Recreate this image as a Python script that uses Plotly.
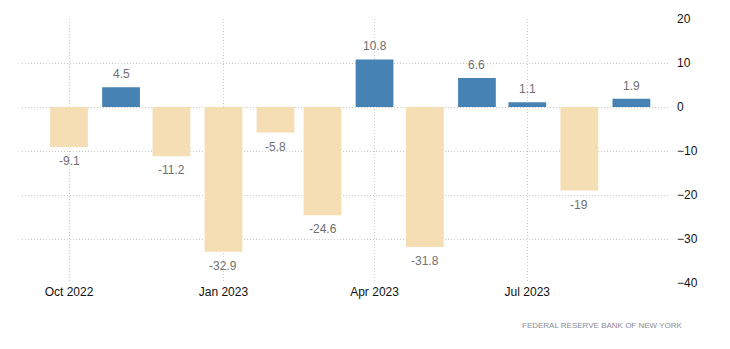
import plotly.graph_objects as go

months = ["2022-10-01", "2022-11-01", "2022-12-01", "2023-01-01", "2023-02-01", "2023-03-01",
          "2023-04-01", "2023-05-01", "2023-06-01", "2023-07-01", "2023-08-01", "2023-09-01"]
values = [-9.1, 4.5, -11.2, -32.9, -5.8, -24.6, 10.8, -31.8, 6.6, 1.1, -19, 1.9]
labels = ["-9.1", "4.5", "-11.2", "-32.9", "-5.8", "-24.6", "10.8", "-31.8", "6.6", "1.1", "-19", "1.9"]
tick_vals = ["2022-10-01", "2023-01-01", "2023-04-01", "2023-07-01"]
tick_text = ["Oct 2022", "Jan 2023", "Apr 2023", "Jul 2023"]
y_ticks = [20, 10, 0, -10, -20, -30, -40]
source = "FEDERAL RESERVE BANK OF NEW YORK"

colors = ["#4682B4" if v >= 0 else "#F5DEB3" for v in values]

fig = go.Figure()
fig.add_trace(go.Bar(
    x=months, y=values,
    marker=dict(color=colors, line=dict(width=0)),
    width=22.5 * 86400000, hoverinfo="skip",
))

annotations = []
for m, v, t in zip(months, values, labels):
    annotations.append(dict(
        x=m, y=v, xref="x", yref="y", text=t, showarrow=False,
        yanchor="middle", xanchor="center", yshift=13 if v >= 0 else -14,
        font=dict(color="#6f6f6f", size=12, family="Liberation Sans, Arial"),
    ))
annotations.append(dict(
    text=source, xref="paper", yref="paper", x=1.023, y=-0.16,
    xanchor="right", yanchor="middle", showarrow=False,
    font=dict(size=8, color="#8a8a9a", family="Liberation Sans, Arial"),
))

fig.update_layout(
    width=730, height=349,
    margin=dict(l=22, r=60, t=19, b=66),
    paper_bgcolor="white", plot_bgcolor="white",
    showlegend=False,
    font=dict(family="Liberation Sans, Arial", size=12, color="#111"),
    xaxis=dict(
        type="date", range=["2022-09-03", "2023-09-24"],
        tickvals=tick_vals, ticktext=tick_text,
        showgrid=True, gridcolor="#c8c8c8", griddash="1px,2px", gridwidth=1,
        zeroline=False, showline=False, ticks="",
        tickfont=dict(size=12, color="#111"),
    ),
    yaxis=dict(
        side="right", range=[-40, 20], tickvals=y_ticks,
        showgrid=True, gridcolor="#c8c8c8", griddash="1px,2px", gridwidth=1,
        zeroline=False, showline=False, ticks="",
        ticklabelstandoff=6,
        tickfont=dict(size=12, color="#111"),
    ),
    annotations=annotations,
)

fig.write_html("out.html")
